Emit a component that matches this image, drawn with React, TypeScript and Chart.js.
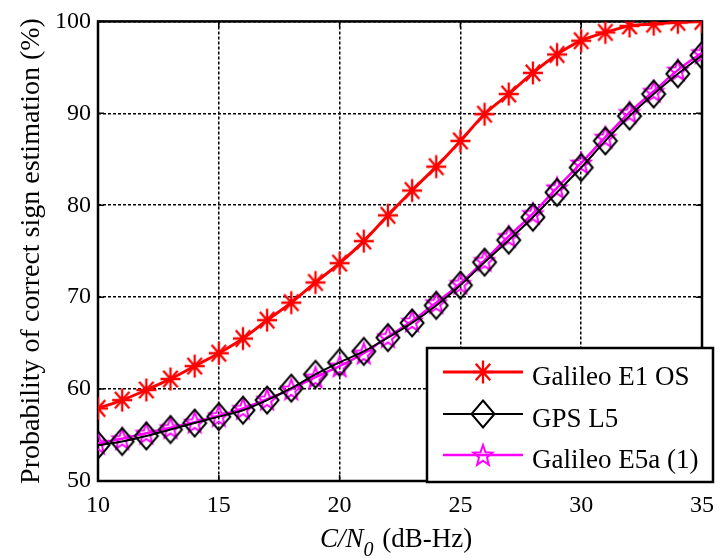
import React, { useEffect, useRef } from "react";
import { Chart, registerables } from "chart.js";

Chart.register(...registerables);

// ---- data ----
const cn0 = [10, 11, 12, 13, 14, 15, 16, 17, 18, 19, 20, 21, 22, 23, 24, 25, 26, 27, 28, 29, 30, 31, 32, 33, 34, 35];
const galileoE1OS = [57.9, 58.8, 59.9, 61.1, 62.5, 63.9, 65.5, 67.5, 69.4, 71.6, 73.7, 76.1, 78.9, 81.6, 84.2, 87.0, 89.9, 92.1, 94.4, 96.4, 97.9, 98.8, 99.5, 99.7, 99.9, 100.0];
const gpsL5 = [53.9, 54.3, 54.9, 55.6, 56.3, 57.0, 57.7, 58.8, 60.1, 61.6, 62.9, 64.1, 65.6, 67.2, 69.1, 71.3, 73.8, 76.2, 78.7, 81.4, 84.1, 87.0, 89.7, 92.1, 94.3, 96.3];
const galileoE5a = [54.1, 54.6, 55.2, 55.8, 56.4, 57.1, 57.9, 58.9, 60.0, 61.3, 62.5, 63.9, 65.7, 67.4, 69.4, 71.5, 74.0, 76.6, 79.1, 81.9, 84.6, 87.4, 90.1, 92.4, 94.7, 96.6];
const seriesNames = ["Galileo E1 OS", "GPS L5", "Galileo E5a (1)"];
const xTicks = [10, 15, 20, 25, 30, 35];
const yTicks = [50, 60, 70, 80, 90, 100];
const yTitle = "Probability of correct sign estimation (%)";
const xTitleItalic = "C/N";
const xTitleSub = "0";
const xTitleRest = " (dB-Hz)";

const SERIF = '"Liberation Serif", "Times New Roman", serif';
const RED = "#ff0000";
const BLACK = "#000000";
const MAGENTA = "#ff00ff";

type Kind = "asterisk" | "diamond" | "star";

function makeMarker(kind: Kind, color: string): HTMLCanvasElement {
  const w = 32, h = 34;
  const c = document.createElement("canvas");
  c.width = w;
  c.height = h;
  const g = c.getContext("2d")!;
  g.strokeStyle = color;
  g.lineJoin = "miter";
  const cx = w / 2, cy = h / 2;
  g.beginPath();
  if (kind === "asterisk") {
    g.lineWidth = 2.3;
    const rx = 10, ry = 11.5;
    g.moveTo(cx, cy - ry); g.lineTo(cx, cy + ry);
    g.moveTo(cx - rx, cy); g.lineTo(cx + rx, cy);
    const dx = rx * 0.72, dy = ry * 0.72;
    g.moveTo(cx - dx, cy - dy); g.lineTo(cx + dx, cy + dy);
    g.moveTo(cx - dx, cy + dy); g.lineTo(cx + dx, cy - dy);
    g.stroke();
  } else if (kind === "diamond") {
    g.lineWidth = 2;
    const rx = 11.5, ry = 13.5;
    g.moveTo(cx, cy - ry);
    g.lineTo(cx + rx, cy);
    g.lineTo(cx, cy + ry);
    g.lineTo(cx - rx, cy);
    g.closePath();
    g.stroke();
  } else {
    g.lineWidth = 2;
    const rx = 10, ry = 11, inner = 0.42;
    for (let i = 0; i < 10; i++) {
      const r = i % 2 === 0 ? 1 : inner;
      const a = -Math.PI / 2 + (i * Math.PI) / 5;
      const px = cx + Math.cos(a) * rx * r;
      const py = cy + 1 + Math.sin(a) * ry * r;
      if (i === 0) g.moveTo(px, py); else g.lineTo(px, py);
    }
    g.closePath();
    g.stroke();
  }
  return c;
}

export default function App() {
  const ref = useRef<HTMLCanvasElement | null>(null);

  useEffect(() => {
    const canvas = ref.current!;
    const markers = [
      makeMarker("asterisk", RED),
      makeMarker("diamond", BLACK),
      makeMarker("star", MAGENTA),
    ];
    const colors = [RED, BLACK, MAGENTA];
    const widths = [3, 2, 2.5];
    const values = [galileoE1OS, gpsL5, galileoE5a];

    const framePlugin = {
      id: "frame",
      beforeDatasetsDraw(ch: any) {
        const { ctx, chartArea: a, scales } = ch;
        const xs = scales.x, ys = scales.y;
        ctx.save();
        ctx.strokeStyle = "#000";
        ctx.lineWidth = 1.5;
        ctx.beginPath();
        for (const v of xTicks) {
          const px = xs.getPixelForValue(v);
          ctx.moveTo(px, a.bottom); ctx.lineTo(px, a.bottom - 6);
          ctx.moveTo(px, a.top); ctx.lineTo(px, a.top + 6);
        }
        for (const v of yTicks) {
          const py = ys.getPixelForValue(v);
          ctx.moveTo(a.left, py); ctx.lineTo(a.left + 6, py);
          ctx.moveTo(a.right, py); ctx.lineTo(a.right - 6, py);
        }
        ctx.stroke();
        ctx.lineWidth = 2.5;
        ctx.strokeRect(a.left, a.top, a.right - a.left, a.bottom - a.top);
        ctx.restore();
      },
      afterDraw(ch: any) {
        const { ctx, chartArea: a } = ch;
        ctx.save();
        // legend
        const lx = 427, ly = 348, lw = 286, lh = 134;
        ctx.fillStyle = "#fff";
        ctx.fillRect(lx, ly, lw, lh);
        ctx.strokeStyle = "#000";
        ctx.lineWidth = 2.5;
        ctx.strokeRect(lx, ly, lw, lh);
        const rows = [372, 414, 455];
        ctx.font = `27px ${SERIF}`;
        ctx.textAlign = "left";
        ctx.textBaseline = "alphabetic";
        rows.forEach((ry, i) => {
          ctx.strokeStyle = colors[i];
          ctx.lineWidth = widths[i];
          ctx.beginPath();
          ctx.moveTo(443, ry);
          ctx.lineTo(523, ry);
          ctx.stroke();
          const m = markers[i];
          ctx.drawImage(m, 483 - m.width / 2, ry - m.height / 2);
          ctx.fillStyle = "#000";
          ctx.fillText(seriesNames[i], 532, ry + 13);
        });
        // y title
        ctx.save();
        ctx.translate(39, 251);
        ctx.rotate(-Math.PI / 2);
        ctx.font = `28px ${SERIF}`;
        ctx.textAlign = "center";
        ctx.fillStyle = "#000";
        ctx.fillText(yTitle, 0, 0);
        ctx.restore();
        // x title
        const fItal = `italic 27px ${SERIF}`;
        const fSub = `italic 20px ${SERIF}`;
        const fReg = `27px ${SERIF}`;
        ctx.font = fItal;
        const w1 = ctx.measureText(xTitleItalic).width;
        ctx.font = fSub;
        const w2 = ctx.measureText(xTitleSub).width;
        ctx.font = fReg;
        const w3 = ctx.measureText(xTitleRest).width;
        const total = w1 + w2 + 2 + w3;
        let sx = (a.left + a.right) / 2 - total / 2 - 4;
        const base = 547;
        ctx.textAlign = "left";
        ctx.fillStyle = "#000";
        ctx.font = fItal;
        ctx.fillText(xTitleItalic, sx, base);
        sx += w1;
        ctx.font = fSub;
        ctx.fillText(xTitleSub, sx, base + 9);
        sx += w2 + 2;
        ctx.font = fReg;
        ctx.fillText(xTitleRest, sx, base);
        ctx.restore();
      },
    };

    const chart = new Chart(canvas, {
      type: "line",
      data: {
        datasets: values.map((vals, i) => ({
          label: seriesNames[i],
          data: cn0.map((x, j) => ({ x, y: vals[j] })),
          borderColor: colors[i],
          backgroundColor: colors[i],
          borderWidth: widths[i],
          pointStyle: markers[i] as any,
          pointRadius: 10,
          fill: false,
          cubicInterpolationMode: "monotone" as const,
        })),
      },
      options: {
        responsive: false,
        animation: false,
        devicePixelRatio: 1,
        layout: { padding: { top: 21, right: 14, left: 0, bottom: 0 } },
        plugins: { legend: { display: false }, tooltip: { enabled: false } },
        scales: {
          x: {
            type: "linear",
            min: 10,
            max: 35,
            afterFit: (s: any) => { s.height = 78; },
            afterBuildTicks: (s: any) => { s.ticks = xTicks.map((v) => ({ value: v })); },
            ticks: {
              color: "#000",
              font: { family: SERIF, size: 24 },
              padding: 10,
              maxRotation: 0,
              callback: (v: any) => String(v),
            },
            grid: { color: "#000", lineWidth: 1.5, drawTicks: false },
            border: { display: false, dash: [3, 2] },
          },
          y: {
            type: "linear",
            min: 50,
            max: 100,
            afterFit: (s: any) => { s.width = 98; },
            afterBuildTicks: (s: any) => { s.ticks = yTicks.map((v) => ({ value: v })); },
            ticks: {
              color: "#000",
              font: { family: SERIF, size: 24 },
              padding: 7,
              callback: (v: any) => String(v),
            },
            grid: { color: "#000", lineWidth: 1.5, drawTicks: false },
            border: { display: false, dash: [3, 2] },
          },
        },
      },
      plugins: [framePlugin],
    });
    return () => chart.destroy();
  }, []);

  return (
    <div style={{ position: "fixed", left: 0, top: 0, width: 724, height: 559, background: "#fff" }}>
      <canvas ref={ref} width={724} height={559} style={{ width: 724, height: 559, display: "block" }} />
    </div>
  );
}
